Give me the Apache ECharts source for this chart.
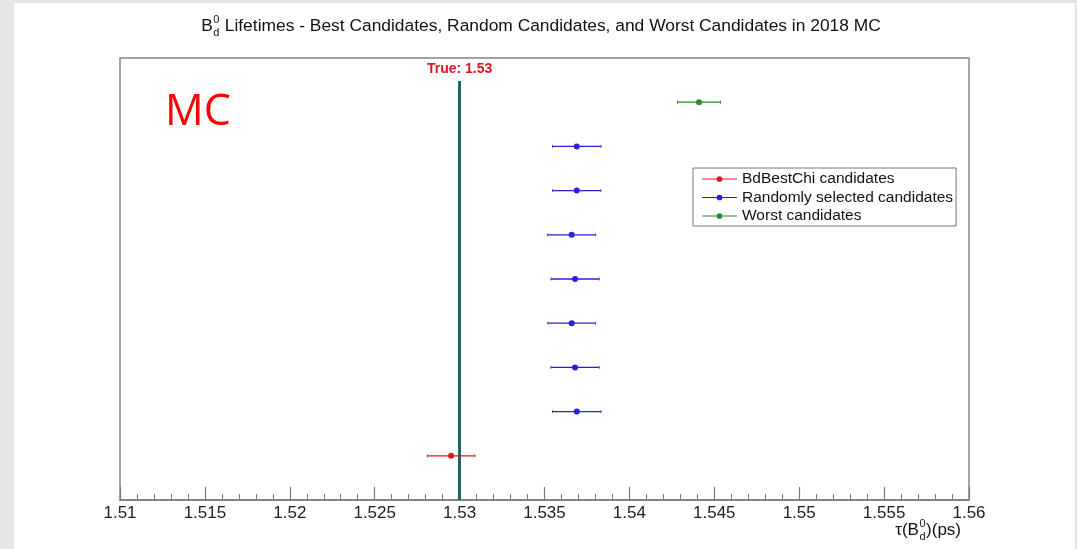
<!DOCTYPE html>
<html>
<head>
<meta charset="utf-8">
<script src="https://cdn.jsdelivr.net/npm/echarts@6/dist/echarts.min.js"></script>
<style>
  html, body { margin: 0; padding: 0; background: #e6e6e6; }
  #page { position: absolute; left: 14px; top: 3px; right: 2px; bottom: 0; background: #ffffff; }
  #chart { position: absolute; left: 0; top: 0; width: 1077px; height: 549px; }
</style>
</head>
<body>
<div id="page"></div>
<div id="chart"></div>
<script>
// Fitted B_d^0 lifetimes (ps), one fit per row, with fit uncertainty
const trueLifetime = 1.53;

const bestRows = [1];
const bestValues = [1.5295];
const bestErrors = [0.0014];

const randomRows = [2, 3, 4, 5, 6, 7, 8];
const randomValues = [1.5369, 1.5368, 1.5366, 1.5368, 1.5366, 1.5369, 1.5369];
const randomErrors = [0.00143, 0.00142, 0.00141, 0.00142, 0.00141, 0.00142, 0.00143];

const worstRows = [9];
const worstValues = [1.5441];
const worstErrors = [0.00126];

const xTicks = { min: 1.51, max: 1.56, step: 0.005 };
const yRange = { min: 0, max: 10 };

const seriesNames = ['BdBestChi candidates', 'Randomly selected candidates', 'Worst candidates'];
const seriesColors = ['#e0161c', '#2a1fdc', '#2c8a2c'];

const FONT = "'Liberation Sans', Arial, Helvetica, sans-serif";
const TRUE_LINE_TOP = 9.48;

function rowsToData(rows, values, errors) {
  return rows.map((r, i) => [values[i], r, errors[i]]);
}

// Horizontal error bar with small end caps and a dot at the central value
function renderErrorBar(params, api) {
  const x = api.value(0), y = api.value(1), e = api.value(2);
  const c = api.coord([x, y]);
  const l = api.coord([x - e, y]);
  const r = api.coord([x + e, y]);
  const color = api.visual('color');
  return {
    type: 'group',
    children: [
      { type: 'line', shape: { x1: l[0], y1: l[1], x2: r[0], y2: r[1] }, style: { stroke: color, lineWidth: 1.3 } },
      { type: 'line', shape: { x1: l[0], y1: l[1] - 1.5, x2: l[0], y2: l[1] + 1.5 }, style: { stroke: '#555', lineWidth: 1 } },
      { type: 'line', shape: { x1: r[0], y1: r[1] - 1.5, x2: r[0], y2: r[1] + 1.5 }, style: { stroke: '#555', lineWidth: 1 } },
      { type: 'circle', shape: { cx: c[0], cy: c[1], r: 3 }, style: { fill: color } }
    ]
  };
}

// Text with a stacked superscript/subscript pair, e.g. B^0_d
const measureCtx = document.createElement('canvas').getContext('2d');
function textWidth(str, size, weight) {
  measureCtx.font = (weight || 'normal') + ' ' + size + 'px ' + FONT;
  return measureCtx.measureText(str).width;
}
function scriptedText(before, sup, sub, after, size, anchorX, centerY, align) {
  const small = Math.round(size * 0.66);
  const wBefore = textWidth(before, size);
  const wScript = Math.max(textWidth(sup, small), textWidth(sub, small));
  const wAfter = textWidth(after, size);
  const total = wBefore + wScript + 1 + wAfter;
  let x0 = anchorX;
  if (align === 'center') x0 = anchorX - total / 2;
  if (align === 'right') x0 = anchorX - total;
  const base = { fontFamily: FONT, fill: '#111' };
  return {
    type: 'group',
    children: [
      { type: 'text', x: x0, y: centerY, style: Object.assign({ text: before, fontSize: size, verticalAlign: 'middle' }, base) },
      { type: 'text', x: x0 + wBefore + 0.5, y: centerY - size * 0.36, style: Object.assign({ text: sup, fontSize: small, verticalAlign: 'middle' }, base) },
      { type: 'text', x: x0 + wBefore + 0.5, y: centerY + size * 0.40, style: Object.assign({ text: sub, fontSize: small, verticalAlign: 'middle' }, base) },
      { type: 'text', x: x0 + wBefore + wScript + 1, y: centerY, style: Object.assign({ text: after, fontSize: size, verticalAlign: 'middle' }, base) }
    ]
  };
}

const legendIcon = 'path://M0,3.2L35,3.2L35,4.3L0,4.3Z M17.5,0.9A2.85,2.85 0 1 1 17.49,0.9Z';

const chart = echarts.init(document.getElementById('chart'), null, { renderer: 'canvas' });

chart.setOption({
  backgroundColor: 'transparent',
  animation: false,
  grid: {
    left: 120, right: 108, top: 58, bottom: 49,
    show: true, borderColor: '#858585', borderWidth: 1.5, backgroundColor: 'transparent'
  },
  legend: {
    orient: 'vertical',
    left: 693, top: 168,
    padding: [3, 3, 2, 9],
    itemWidth: 35, itemHeight: 7, itemGap: 2.5,
    backgroundColor: '#fff', borderColor: '#777', borderWidth: 1,
    textStyle: { fontFamily: FONT, fontSize: 15.5, color: '#111', lineHeight: 15.5 },
    data: seriesNames.map(n => ({ name: n, icon: legendIcon }))
  },
  xAxis: {
    type: 'value',
    min: xTicks.min, max: xTicks.max, interval: xTicks.step,
    axisLine: { lineStyle: { color: '#7a7a7a', width: 1.5 } },
    axisTick: { inside: true, length: 13, lineStyle: { color: '#7a7a7a', width: 1.2 } },
    minorTick: { show: true, splitNumber: 5, length: 6, lineStyle: { color: '#7a7a7a', width: 1 } },
    splitLine: { show: false },
    axisLabel: {
      margin: 5, fontFamily: FONT, fontSize: 17, color: '#222',
      formatter: v => String(parseFloat(v.toFixed(3)))
    }
  },
  yAxis: {
    type: 'value', min: yRange.min, max: yRange.max, show: false
  },
  series: [
    {
      name: seriesNames[0], type: 'custom', renderItem: renderErrorBar,
      itemStyle: { color: seriesColors[0] },
      encode: { x: 0, y: 1 },
      data: rowsToData(bestRows, bestValues, bestErrors),
      z: 5,
      markLine: {
        silent: true, symbol: 'none',
        lineStyle: { color: '#2e5e5e', width: 3, type: 'solid' },
        label: {
          show: true, position: 'end', distance: 5,
          formatter: 'True: ' + trueLifetime,
          fontFamily: FONT, fontWeight: 'bold', fontSize: 14, color: '#e0161c'
        },
        data: [[{ coord: [trueLifetime, yRange.min] }, { coord: [trueLifetime, TRUE_LINE_TOP] }]]
      }
    },
    {
      name: seriesNames[1], type: 'custom', renderItem: renderErrorBar,
      itemStyle: { color: seriesColors[1] },
      encode: { x: 0, y: 1 },
      data: rowsToData(randomRows, randomValues, randomErrors),
      z: 5
    },
    {
      name: seriesNames[2], type: 'custom', renderItem: renderErrorBar,
      itemStyle: { color: seriesColors[2] },
      encode: { x: 0, y: 1 },
      data: rowsToData(worstRows, worstValues, worstErrors),
      z: 5
    }
  ],
  graphic: [
    scriptedText('B', '0', 'd',
      ' Lifetimes - Best Candidates, Random Candidates, and Worst Candidates in 2018 MC',
      17.4, 541, 26, 'center'),
    scriptedText('\u03c4(B', '0', 'd', ')(ps)', 17, 961, 530, 'right'),
    {
      type: 'text', left: 165, top: 91,
      style: { text: 'MC', fontFamily: "'Open Sans', 'Noto Sans', sans-serif", fontSize: 43, fill: '#ff0000' }
    }
  ]
});
</script>
</body>
</html>
